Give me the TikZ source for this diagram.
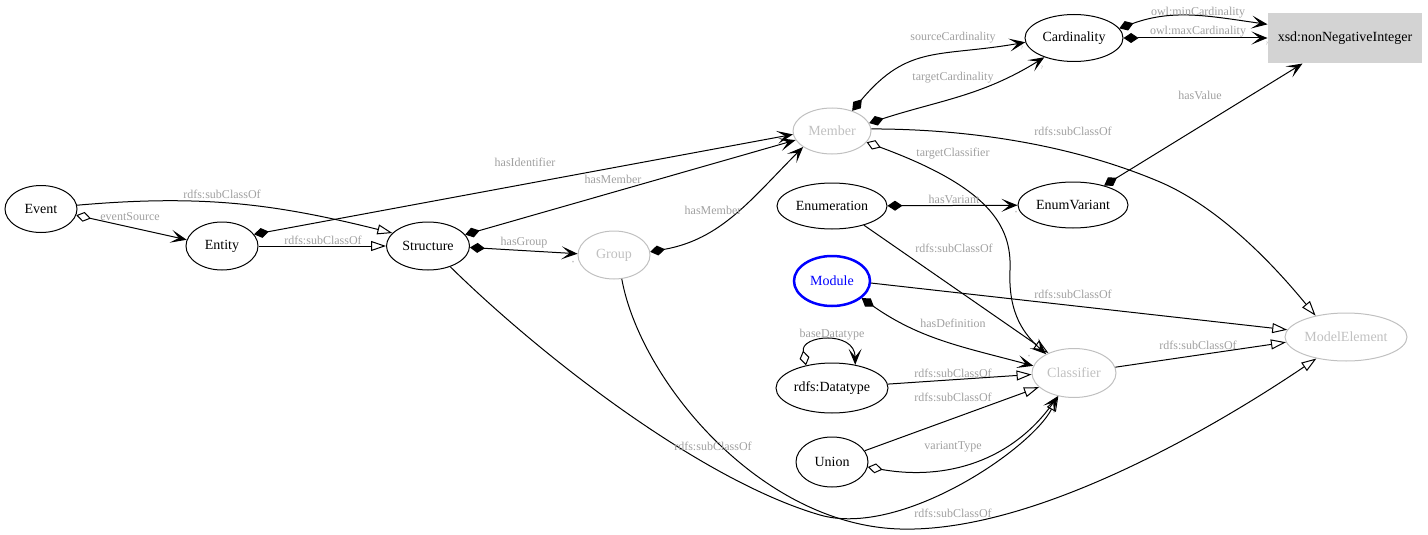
\documentclass[tikz,border=0pt]{standalone}
\usepackage{fontspec}
\setmainfont{Liberation Serif}
\usetikzlibrary{shapes.geometric,arrows.meta}
\definecolor{lblgray}{RGB}{160,160,160}
\definecolor{nodegray}{RGB}{192,192,192}
\definecolor{boxgray}{RGB}{211,211,211}
\begin{document}
\begin{tikzpicture}
  [x=1pt,y=-1pt,line width=1pt,
   every node/.style={font=\fontsize{14}{16}\selectfont},
   cls/.style={ellipse,draw,inner sep=0pt},
   ghost/.style={cls,draw=nodegray,text=nodegray},
   lbl/.style={font=\fontsize{12}{14}\selectfont,text=lblgray,inner sep=0pt},
   tag/.style={font=\fontsize{5}{5}\selectfont,text=lblgray,inner sep=0pt},
   prop/.style={-{Stealth[length=16pt,width=13pt,inset=8pt]}},
   comp/.style={{Diamond[length=15pt,width=10pt]}-{Stealth[length=16pt,width=13pt,inset=8pt]}},
   aggr/.style={{Diamond[open,length=15pt,width=10pt]}-{Stealth[length=16pt,width=13pt,inset=8pt]}},
   sub/.style={-{Triangle[open,length=15pt,width=10pt]}}]
  \useasboundingbox (0,0) rectangle (1428,535);

  % classes
  \node[cls,minimum width=72,minimum height=47]   (Event)       at (41,209)   {Event};
  \node[cls,minimum width=72,minimum height=48]   (Entity)      at (222,246)  {Entity};
  \node[cls,minimum width=83,minimum height=48]   (Structure)   at (428,246)  {Structure};
  \node[ghost,minimum width=72,minimum height=48] (Group)       at (614,255)  {Group};
  \node[ghost,minimum width=78,minimum height=46] (Member)      at (832,131)  {Member};
  \node[cls,minimum width=98,minimum height=47]   (Cardinality) at (1074,38)  {Cardinality};
  \node[fill=boxgray,minimum width=154,minimum height=50,inner sep=0pt] (xsd) at (1345,38) {xsd:nonNegativeInteger};
  \node[cls,minimum width=110,minimum height=46]  (Enumeration) at (832,206)  {Enumeration};
  \node[cls,minimum width=110,minimum height=46]  (EnumVariant) at (1073,205) {EnumVariant};
  \node[cls,draw=blue,text=blue,line width=2.5pt,minimum width=76,minimum height=50] (Module) at (832,281) {Module};
  \node[cls,minimum width=112,minimum height=50]  (Datatype)    at (832,388)  {rdfs:Datatype};
  \node[cls,minimum width=72,minimum height=50]   (Union)       at (832,462)  {Union};
  \node[ghost,minimum width=84,minimum height=49] (Classifier)  at (1074,373) {Classifier};
  \node[ghost,minimum width=122,minimum height=48] (ModelElement) at (1346,337) {ModelElement};

  % left part
  \draw[sub]  (Event.6) to[out=5,in=166] (Structure.160);
  \draw[aggr] (Event.-10) -- (Entity.170);
  \draw[sub]  (Entity.east) -- (Structure.west);
  \draw[comp] (Entity.20) -- (Member.185);
  \draw[comp] (Structure.17) -- (Member.194);
  \draw[comp] (Structure.-2) -- (Group.178);
  \draw[comp] (Group.5) to[out=10,in=225] (Member.209);
  \draw[sub]  (Structure.-43) .. controls (540,355) and (700,480) .. (820,515)
              .. controls (900,538) and (1030,450) .. (Classifier.236);
  \draw[sub]  (Group.-72) .. controls (640,380) and (760,525) .. (900,529)
              .. controls (1040,533) and (1227,419) .. (ModelElement.216);

  % member and cardinality
  \draw[comp] (Member.45) to[out=50,in=190,looseness=1.2] (Cardinality.185);
  \draw[comp] (Member.12) to[out=18,in=212] (Cardinality.213);
  \draw[comp] (Cardinality.12) to[out=20,in=172] (xsd.170);
  \draw[comp] (Cardinality.east) -- (xsd.west);
  \draw[comp] (EnumVariant.32) -- (xsd.211);
  \draw[sub]  (Member.3) .. controls (980,129) and (1080,148) .. (1160,182)
              .. controls (1230,212) and (1290,285) .. (ModelElement.145);
  \draw[aggr] (Member.-18) .. controls (988,187) and (1012,225) .. (1010,270)
              .. controls (1008,315) and (1025,335) .. (Classifier.146);

  % classifier kinds
  \draw[comp] (Enumeration) -- (EnumVariant);
  \draw[sub]  (Enumeration.-31) -- (Classifier.142);
  \draw[sub]  (Module.-3) -- (ModelElement.173);
  \draw[comp] (Module.-30) to[out=-35,in=165] (Classifier.170);
  \draw[aggr] (Datatype.139) .. controls (800,335) and (855,330) .. (Datatype.45);
  \draw[sub]  (Datatype.4) -- (Classifier.182);
  \draw[sub]  (Union.19) -- (Classifier.202);
  \draw[aggr] (Union.-8) to[out=-10,in=235] (Classifier.235);
  \draw[sub]  (Classifier.8) -- (ModelElement.185);

  % edge labels
  \node[lbl] (lEventSub)    at (222,194)  {rdfs:subClassOf};
  \node[lbl] (lEventSource) at (130,217)  {eventSource};
  \node[lbl] (lEntitySub)   at (323,240)  {rdfs:subClassOf};
  \node[lbl] (lIdentifier)  at (525,162)  {hasIdentifier};
  \node[lbl] (lStructMem)   at (613,179)  {hasMember};
  \node[lbl] (lGroup)       at (524,243)  {hasGroup};
  \node[lbl] (lGroupMem)    at (713,210)  {hasMember};
  \node[lbl] (lStructSub)   at (713,446)  {rdfs:subClassOf};
  \node[lbl] (lGroupSub)    at (953,513)  {rdfs:subClassOf};
  \node[lbl] (lSourceCard)  at (953,38)   {sourceCardinality};
  \node[lbl] (lTargetCard)  at (953,78)   {targetCardinality};
  \node[lbl] (lMinCard)     at (1198,13)  {owl:minCardinality};
  \node[lbl] (lMaxCard)     at (1198,32)  {owl:maxCardinality};
  \node[lbl] (lValue)       at (1200,95)  {hasValue};
  \node[lbl] (lMemberSub)   at (1073,131) {rdfs:subClassOf};
  \node[lbl] (lTargetCls)   at (953,154)  {targetClassifier};
  \node[lbl] (lVariant)     at (954,199)  {hasVariant};
  \node[lbl] (lEnumSub)     at (954,248)  {rdfs:subClassOf};
  \node[lbl] (lModuleSub)   at (1073,294) {rdfs:subClassOf};
  \node[lbl] (lDefinition)  at (953,323)  {hasDefinition};
  \node[lbl] (lBase)        at (832,335)  {baseDatatype};
  \node[lbl] (lDatatypeSub) at (953,373)  {rdfs:subClassOf};
  \node[lbl] (lUnionSub)    at (953,397)  {rdfs:subClassOf};
  \node[lbl] (lVariantType) at (953,447)  {variantType};
  \node[lbl] (lClsSub)      at (1198,345) {rdfs:subClassOf};

  % multiplicity marks
  \node[tag] (tSource) at (1022,48)  {?};
  \node[tag] (tTarget) at (1042,68)  {?};
  \node[tag] (tMax)    at (1267,44)  {?};
  \node[tag] (tGroup)  at (573,263)  {*};
  \node[tag] (tVar)    at (1016,213) {*};
  \node[tag] (tCls)    at (1029,357) {*};

\end{tikzpicture}
\end{document}
